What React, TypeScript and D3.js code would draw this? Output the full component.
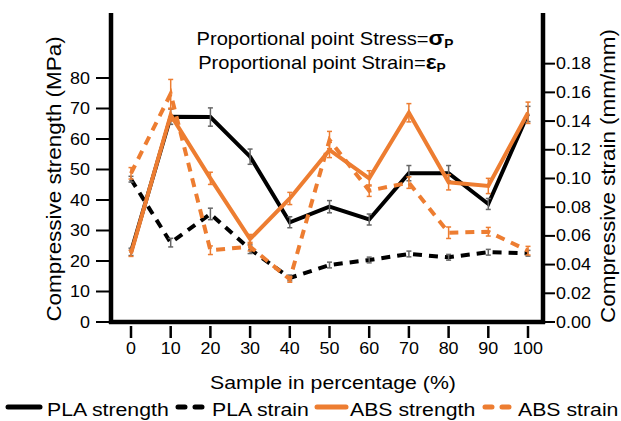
import React from "react";
import * as d3 from "d3";

const samples = [0, 10, 20, 30, 40, 50, 60, 70, 80, 90, 100];
const plaStrength = [23, 67.3, 67.2, 54.2, 32.7, 37.8, 33.6, 48.8, 48.8, 38.7, 68.2];
const plaStrengthErr = [1.2, 2.5, 3, 2.5, 1.8, 2, 1.8, 2.5, 2.5, 1.8, 2.5];
const absStrength = [22.5, 67.9, 47.1, 27.2, 40.5, 56.4, 47.1, 68.6, 45.8, 44.6, 68.6];
const absStrengthErr = [1, 2, 2, 1.5, 2, 2.5, 2.5, 3, 2.5, 2.5, 3.5];
const plaStrain = [0.0995, 0.0553, 0.0753, 0.0507, 0.0307, 0.0397, 0.0432, 0.0474, 0.0451, 0.0486, 0.0479];
const plaStrainErr = [0.002, 0.003, 0.004, 0.003, 0.002, 0.002, 0.002, 0.002, 0.002, 0.002, 0.002];
const absStrain = [0.1036, 0.159, 0.050, 0.0525, 0.0297, 0.1268, 0.0915, 0.0971, 0.0622, 0.0629, 0.0497];
const absStrainErr = [0.004, 0.01, 0.003, 0.003, 0.002, 0.006, 0.004, 0.004, 0.004, 0.003, 0.003];
const strengthTicks = [0, 10, 20, 30, 40, 50, 60, 70, 80];
const strainTicks = [0, 0.02, 0.04, 0.06, 0.08, 0.1, 0.12, 0.14, 0.16, 0.18];

const ORANGE = "#ED7D31";
const FONT = "'Liberation Sans', Arial, sans-serif";

function T({ x, y, rot = 0, sx = 1.15, anchor = "start", size, children, dy }: any) {
  return (
    <g transform={`translate(${x},${y}) rotate(${rot}) scale(${sx},1)`}>
      <text x={0} y={0} dy={dy} fontSize={size} textAnchor={anchor} fill="#000">{children}</text>
    </g>
  );
}

export default function App() {
  const W = 621, H = 421;
  const x = d3.scaleLinear().domain([0, 100]).range([131, 528]);
  const yS = d3.scaleLinear().domain([0, 100.98]).range([322, 14]);
  const yE = d3.scaleLinear().domain([0, 0.2146]).range([322, 14]);
  const line = (vals: number[], sc: d3.ScaleLinear<number, number>) =>
    d3.line<number>().x((_, i) => x(samples[i])).y((v) => sc(v))(vals) || "";

  const series = [
    { vals: plaStrength, err: plaStrengthErr, sc: yS, color: "#000", dash: undefined, errColor: "#666" },
    { vals: plaStrain, err: plaStrainErr, sc: yE, color: "#000", dash: "9 7", errColor: "#666" },
    { vals: absStrength, err: absStrengthErr, sc: yS, color: ORANGE, dash: undefined, errColor: ORANGE },
    { vals: absStrain, err: absStrainErr, sc: yE, color: ORANGE, dash: "9 7", errColor: ORANGE },
  ];

  const legend = [
    { label: "PLA strength", color: "#000", dash: undefined, x0: 8, x1: 40, tx: 47 },
    { label: "PLA strain", color: "#000", dash: "7 10", x0: 178, x1: 202, tx: 212 },
    { label: "ABS strength", color: ORANGE, dash: undefined, x0: 317, x1: 346, tx: 350 },
    { label: "ABS strain", color: ORANGE, dash: "7 10", x0: 485, x1: 509, tx: 518 },
  ];

  return (
    <svg width={W} height={H} style={{ position: "absolute", left: 0, top: 0 }} fontFamily={FONT}>
      <rect width={W} height={H} fill="#fff" />
      {/* title annotation */}
      <g transform="translate(325,45) scale(1.15,1)">
        <text x={0} y={0} fontSize={17.5} textAnchor="middle" fill="#000">
          Proportional point Stress=<tspan fontWeight="bold" fontSize={20}>σ</tspan>
          <tspan fontWeight="bold" fontSize={12} dy={3}>P</tspan>
        </text>
      </g>
      <g transform="translate(322,69) scale(1.15,1)">
        <text x={0} y={0} fontSize={17.5} textAnchor="middle" fill="#000">
          Proportional point Strain=<tspan fontWeight="bold" fontSize={20}>ε</tspan>
          <tspan fontWeight="bold" fontSize={12} dy={3}>P</tspan>
        </text>
      </g>

      {/* series lines */}
      {series.map((s, k) => (
        <g key={k}>
          <path d={line(s.vals, s.sc)} fill="none" stroke={s.color} strokeWidth={4}
            strokeDasharray={s.dash} strokeLinejoin="miter" />
          {s.vals.map((v, i) => {
            const cx = x(samples[i]);
            const y1 = s.sc(v - s.err[i]);
            const y2 = s.sc(v + s.err[i]);
            return (
              <g key={i} stroke={s.errColor} strokeWidth={1.5}>
                <line x1={cx} x2={cx} y1={y1} y2={y2} />
                <line x1={cx - 2.5} x2={cx + 2.5} y1={y1} y2={y1} />
                <line x1={cx - 2.5} x2={cx + 2.5} y1={y2} y2={y2} />
              </g>
            );
          })}
        </g>
      ))}

      {/* axes */}
      <line x1={111} x2={111} y1={13} y2={324} stroke="#000" strokeWidth={4.5} />
      <line x1={543} x2={543} y1={13} y2={324} stroke="#000" strokeWidth={4.5} />
      <line x1={109} x2={545} y1={322} y2={322} stroke="#000" strokeWidth={4.5} />

      {strengthTicks.map((t) => (
        <g key={t}>
          <line x1={96} x2={111} y1={yS(t)} y2={yS(t)} stroke="#000" strokeWidth={2} />
          <T x={90} y={yS(t)} dy="0.35em" size={16} sx={1.12} anchor="end">{t}</T>
        </g>
      ))}
      {strainTicks.map((t) => (
        <g key={t}>
          <line x1={543} x2={555} y1={yE(t)} y2={yE(t)} stroke="#000" strokeWidth={2} />
          <T x={556} y={yE(t)} dy="0.35em" size={16} sx={1.12}>{t.toFixed(2)}</T>
        </g>
      ))}
      {samples.map((t) => (
        <g key={t}>
          <line x1={x(t)} x2={x(t)} y1={326} y2={338} stroke="#000" strokeWidth={2.5} />
          <T x={x(t)} y={354} size={16} sx={1.12} anchor="middle">{t}</T>
        </g>
      ))}

      {/* axis titles */}
      <T x={61} y={179} rot={-90} size={19.5} anchor="middle">Compressive strength (MPa)</T>
      <T x={615} y={176} rot={-90} size={19.5} anchor="middle">Compressive strain (mm/mm)</T>
      <T x={333} y={389} size={18.5} anchor="middle">Sample in percentage (%)</T>

      {/* legend */}
      {legend.map((l) => (
        <g key={l.label}>
          <line x1={l.x0} x2={l.x1} y1={407} y2={407} stroke={l.color} strokeWidth={5}
            strokeLinecap="round" strokeDasharray={l.dash} />
          <T x={l.tx} y={416} size={18.5}>{l.label}</T>
        </g>
      ))}
    </svg>
  );
}
